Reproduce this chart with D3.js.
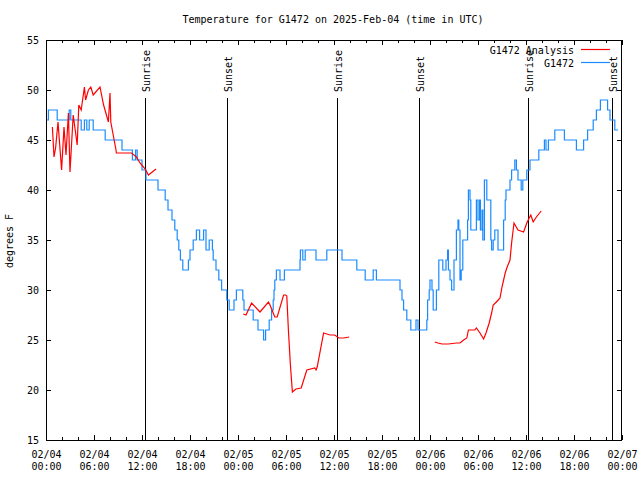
<!DOCTYPE html>
<html>
<head>
<meta charset="utf-8">
<script src="https://cdn.jsdelivr.net/npm/d3@7"></script>
<style>
  html, body { margin: 0; padding: 0; background: #fff; }
  text { font-family: "DejaVu Sans Mono", "Liberation Mono", monospace; font-size: 10px; fill: #000; }
</style>
</head>
<body>
<svg id="chart" width="640" height="480"></svg>
<script>
// ---------------- data ----------------
const chartTitle = "Temperature for G1472 on 2025-Feb-04 (time in UTC)";
const yLabel = "degrees F";
const startUTC = Date.UTC(2025, 1, 4, 0, 0);
const spanHours = 72;
const yTicks = [15, 20, 25, 30, 35, 40, 45, 50, 55];
const seriesNames = ["G1472 Analysis", "G1472"];
const seriesColors = ["#ff0000", "#1a8cff"];

// observations: [hours since 02/04 00:00 UTC, temp F]
const obsData = [
  [0.0,47],[0.3,48],[1.4,47],[2.9,48],[3.1,47],[4.4,46],[4.8,47],[5.1,46],[5.4,47],[5.9,46],
  [7.4,45],[9.5,44],[10.8,43],[11.2,44],[11.4,43],[12.0,42],[12.5,41],[14.0,40],[14.9,39],
  [15.25,38],[15.75,37],[16.1,36],[16.4,35],[16.6,34],[16.8,33],[17.1,32],[17.8,33],[18.0,34],
  [18.4,35],[18.8,36],[19.2,35],[19.7,36],[20.0,34],[20.4,35],[20.8,34],[20.9,33],[21.25,32],
  [21.6,31],[21.95,30],[22.6,29],[22.9,28],[23.5,29],[23.8,30],[24.6,29],[24.75,28],[25.9,27],
  [26.5,26],[27.2,25],[27.45,26],[27.9,27],[28.2,28],[28.4,29],[28.5,30],[28.6,31],[28.8,32],
  [29.25,31],[29.8,32],[31.75,33],[31.8,34],[32.1,33],[32.4,34],[33.75,33],[35.1,34],[37.0,33],
  [38.85,32],[39.9,31],[40.9,32],[41.3,31],[44.25,30],[44.5,29],[44.7,28],[45.1,27],[45.6,26],
  [46.25,27],[46.5,26],[47.6,27],[47.7,29],[47.9,30],[48.0,31],[48.25,30],[48.4,28],[48.8,30],
  [49.1,33],[49.6,32],[50.0,33],[50.2,34],[50.3,32],[50.5,31],[50.7,30],[51.0,33],[51.3,36],
  [51.5,37],[51.6,36],[51.75,31],[51.9,32],[52.1,35],[52.7,37],[52.8,40],[53.0,39],[53.1,36],
  [53.8,39],[54.0,37],[54.2,39],[54.3,36],[54.5,38],[54.6,35],[54.8,41],[55.1,39],[55.6,35],
  [55.7,34],[55.9,35],[56.1,36],[56.5,34],[57.2,37],[57.4,39],[57.5,40],[58.0,41],[58.2,42],
  [58.6,43],[58.8,42],[59.0,41],[59.4,40],[59.6,41],[60.1,42],[60.5,43],[61.6,44],[62.3,45],
  [62.5,44],[62.8,45],[63.6,46],[64.8,45],[66.3,44],[67.2,45],[67.7,46],[68.4,47],[68.8,48],
  [69.3,49],[70.2,48],[70.5,47],[71.1,46],[71.5,46]
];

// analysis: [hours, temp F]; null = gap
const anaData = [
  [0.8,46.3],[1.0,43.3],[1.2,44.2],[1.5,46.8],[1.95,42.0],[2.25,46.3],[2.5,43.5],[2.8,47.7],
  [3.0,41.8],[3.4,47.5],[3.9,44.5],[4.1,48.5],[4.4,48.0],[4.8,50.3],[4.95,49.0],[5.3,50.0],
  [5.6,50.3],[5.9,49.5],[6.75,50.3],[7.2,48.5],[7.8,46.8],[8.0,49.7],[8.1,46.8],[8.4,45.5],
  [8.75,44.0],[8.8,43.7],[10.7,43.7],[11.3,43.3],[11.75,42.7],[12.4,42.1],[12.8,41.5],[13.75,42.1],
  null,
  [24.66,27.6],[25.0,27.5],[25.7,28.7],[26.75,27.8],[27.8,28.8],[28.0,28.5],[28.6,27.3],[28.9,27.3],
  [29.7,29.5],[29.95,29.5],[30.1,29.4],[30.3,26.0],[30.55,22.5],[30.8,19.8],[31.25,20.1],[31.9,20.2],
  [32.6,22.0],[33.6,22.2],[33.75,22.0],[33.9,22.3],[34.7,25.7],[35.1,25.6],[35.5,25.5],[36.1,25.5],
  [36.6,25.2],[37.2,25.2],[37.9,25.3],
  null,
  [48.6,24.8],[49.0,24.7],[49.5,24.6],[50.3,24.6],[51.3,24.7],[51.75,24.7],[52.2,25.0],[52.6,25.2],
  [52.8,26.0],[53.6,26.0],[53.8,26.2],[54.25,25.7],[54.7,25.1],[55.0,25.7],[55.4,26.7],[55.7,27.7],
  [55.9,28.5],[56.3,28.8],[56.75,29.2],[57.0,30.3],[57.4,31.7],[57.6,32.2],[58.0,33.0],[58.2,34.7],
  [58.5,36.7],[59.0,36.0],[59.7,35.8],[60.1,36.7],[60.4,37.2],[60.6,37.5],[60.9,36.8],[61.3,37.3],
  [61.9,37.9]
];

// sun events: hours since start
const sunLabels = ["Sunrise", "Sunset", "Sunrise", "Sunset", "Sunrise", "Sunset"];
const sunHours = [12.41, 22.66, 36.41, 46.66, 60.29, 70.71];

// ---------------- drawing ----------------
(function () {
const svg = d3.select("#chart");
const toDate = h => new Date(startUTC + h * 3600 * 1000);

const pLeft = 46, pRight = 622, pTop = 40, pBottom = 440;
const x = d3.scaleUtc()
  .domain([toDate(0), toDate(spanHours)])
  .range([pLeft, pRight]);
const y = d3.scaleLinear().domain([15, 55]).range([pBottom, pTop]);

// title
svg.append("text").attr("x", 333).attr("y", 23).attr("text-anchor", "middle").text(chartTitle);

// y label
svg.append("text")
  .attr("transform", "translate(13,241) rotate(-90)")
  .attr("text-anchor", "middle")
  .text(yLabel);

const majorT = d3.utcHour.every(6).range(toDate(0), toDate(spanHours + 0.01));
const minorT = d3.utcHour.every(2).range(toDate(0), toDate(spanHours + 0.01)).filter(d => d.getUTCHours() % 6 !== 0);

function styleAxis(g) {
  g.select(".domain").remove();
  g.selectAll(".tick line").attr("stroke", "#000").attr("shape-rendering", "crispEdges");
}

// bottom axis (ticks inward)
svg.append("g").attr("transform", `translate(0,${pBottom})`)
  .call(d3.axisBottom(x).tickValues(minorT).tickSize(-3).tickFormat(""))
  .call(styleAxis);
const bAx = svg.append("g").attr("transform", `translate(0,${pBottom})`)
  .call(d3.axisBottom(x).tickValues(majorT).tickSize(-5).tickPadding(0).tickFormat(""))
  .call(styleAxis);
bAx.selectAll(".tick").each(function(d) {
  const t = d3.select(this).select("text");
  t.attr("y", 0).attr("dy", null).attr("fill", "#000")
    .style("font-family", '"DejaVu Sans Mono", monospace').style("font-size", "10px");
  t.append("tspan").attr("x", 0).attr("y", 18).text(d3.utcFormat("%m/%d")(d));
  t.append("tspan").attr("x", 0).attr("y", 30).text(d3.utcFormat("%H:%M")(d));
});

// top axis mirror
svg.append("g").attr("transform", `translate(0,${pTop})`)
  .call(d3.axisTop(x).tickValues(minorT).tickSize(-3).tickFormat(""))
  .call(styleAxis);
svg.append("g").attr("transform", `translate(0,${pTop})`)
  .call(d3.axisTop(x).tickValues(majorT).tickSize(-5).tickFormat(""))
  .call(styleAxis);

// left axis
svg.append("g").attr("transform", `translate(${pLeft},0)`)
  .call(d3.axisLeft(y).tickValues(yTicks).tickSize(-5).tickPadding(7).tickFormat(d3.format("d")))
  .call(styleAxis)
  .call(g => g.selectAll(".tick text").attr("fill", "#000")
    .style("font-family", '"DejaVu Sans Mono", monospace').style("font-size", "10px"));
// right axis mirror
svg.append("g").attr("transform", `translate(${pRight},0)`)
  .call(d3.axisRight(y).tickValues(yTicks).tickSize(-5).tickFormat(""))
  .call(styleAxis);

// sun lines
const sun = svg.append("g");
sunHours.forEach((h, i) => {
  const xx = Math.round(x(toDate(h))) + 0.5;
  sun.append("line").attr("x1", xx).attr("x2", xx).attr("y1", 98).attr("y2", pBottom)
    .attr("stroke", "#000").attr("stroke-width", 1).attr("shape-rendering", "crispEdges");
  sun.append("text")
    .attr("transform", `translate(${xx + 4},92) rotate(-90)`)
    .attr("text-anchor", "start")
    .text(sunLabels[i]);
});

// series
const obsLine = d3.line()
  .x(d => x(toDate(d[0]))).y(d => y(d[1]))
  .curve(d3.curveStepAfter);
svg.append("path").datum(obsData).attr("d", obsLine)
  .attr("fill", "none").attr("stroke", seriesColors[1]).attr("stroke-width", 1.2);

const anaLine = d3.line()
  .defined(d => d !== null)
  .x(d => x(toDate(d[0]))).y(d => y(d[1]));
svg.append("path").datum(anaData).attr("d", anaLine)
  .attr("fill", "none").attr("stroke", seriesColors[0]).attr("stroke-width", 1.2);

// frame
svg.append("rect").attr("x", pLeft + 0.5).attr("y", pTop + 0.5)
  .attr("width", pRight - pLeft - 1).attr("height", pBottom - pTop)
  .attr("fill", "none").attr("stroke", "#000").attr("shape-rendering", "crispEdges");

// legend
const legY = [50, 63];
seriesNames.forEach((n, i) => {
  svg.append("text").attr("x", 574).attr("y", legY[i]).attr("dy", "0.35em")
    .attr("text-anchor", "end").text(n);
  svg.append("line").attr("x1", 581).attr("x2", 610).attr("y1", legY[i] - 0.5).attr("y2", legY[i] - 0.5)
    .attr("stroke", seriesColors[i]).attr("stroke-width", 1.2);
});
})();
</script>
</body>
</html>
